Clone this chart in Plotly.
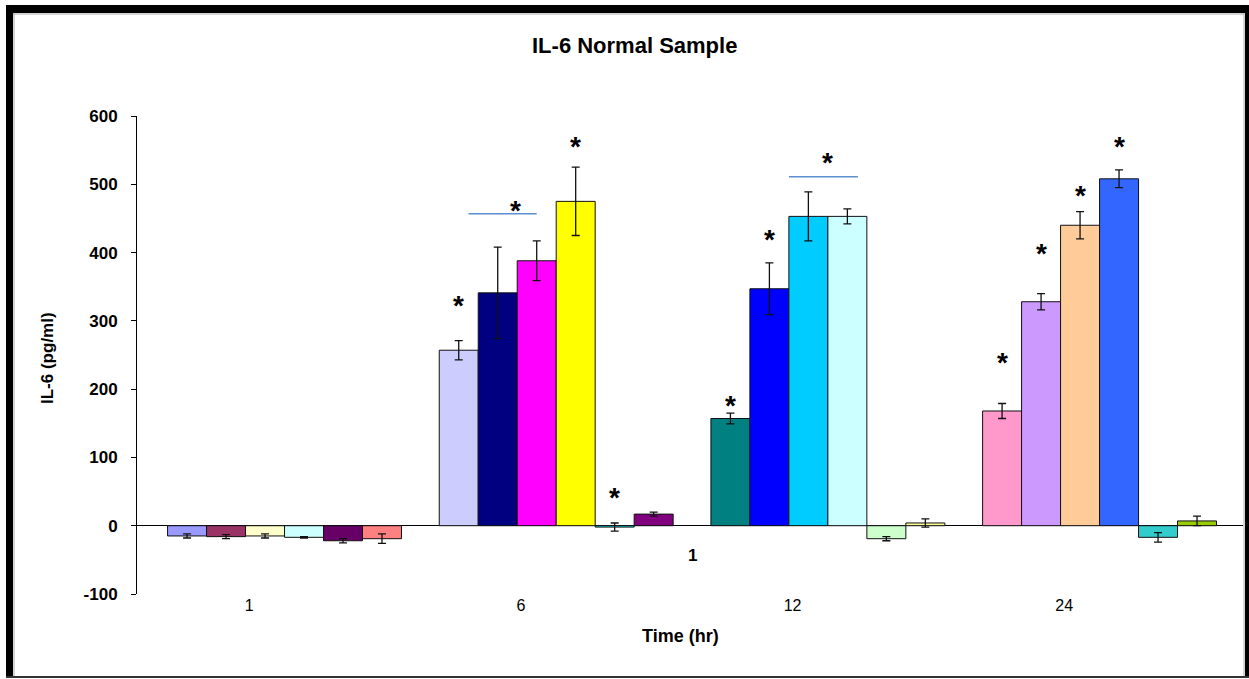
import plotly.graph_objects as go

# ---- data -------------------------------------------------------------
time_labels = ["1", "6", "12", "24"]          # hours after treatment
group_pos = [0, 1, 2, 3]                       # numeric slot of each time point
y_ticks = [-100, 0, 100, 200, 300, 400, 500, 600]

# six bars per time point (IL-6, pg/ml)
bar1 = [-15, 257, 157, 168]
bar2 = [-16, 341, 347, 328]
bar3 = [-15, 388, 453, 440]
bar4 = [-17, 475, 453, 508]
bar5 = [-22, -2, -19, -17]
bar6 = [-19, 17, 4, 7]

err1 = [3, 14, 8, 11]
err2 = [3, 67, 38, 12]
err3 = [3, 29, 36, 20]
err4 = [1, 50, 11, 13]
err5 = [3, 6, 3, 7]
err6 = [7, 3, 6, 7]

col1 = ["#9999FF", "#CCCCFF", "#008080", "#FF99CC"]
col2 = ["#993366", "#000080", "#0000FF", "#CC99FF"]
col3 = ["#FFFFCC", "#FF00FF", "#00CCFF", "#FFCC99"]
col4 = ["#CCFFFF", "#FFFF00", "#CCFFFF", "#3366FF"]
col5 = ["#660066", "#00FFFF", "#CCFFCC", "#33CCCC"]
col6 = ["#FF8080", "#800080", "#FFFF99", "#99CC00"]

# significance asterisks: time-point index, bar slot (0..5), height
star_group = [1, 1, 1, 1, 2, 2, 2, 3, 3, 3, 3]
star_slot = [0, 3, 4, 1.45, 0, 1, 2.5, 0, 1, 2, 3]
star_y = [331, 564, 50, 471, 185, 428, 540, 248, 408, 493, 564]

# bracket lines under the group asterisks: group, slot from, slot to, height
bracket_group = [1, 2]
bracket_from = [0.25, 1.5]
bracket_to = [2.0, 3.27]
bracket_y = [457, 511]

# ---- layout geometry --------------------------------------------------
W, H = 1249, 679
L, R, T, B = 137, 1243, 116, 594
BARGAP = 0.139
NBARS = 6
BARW = (1 - BARGAP) / NBARS
XRANGE = [-0.543, 3.528]
LABEL_SHIFT = -0.13

FONT = "Arial, Liberation Sans, sans-serif"


def px_x(px):
    return (px - L) / (R - L)


def px_y(py):
    return (B - py) / (B - T)


def slot_x(g, s):
    return g + (s - (NBARS - 1) / 2) * BARW


fig = go.Figure()

series = [
    (bar1, err1, col1), (bar2, err2, col2), (bar3, err3, col3),
    (bar4, err4, col4), (bar5, err5, col5), (bar6, err6, col6),
]
for vals, errs, cols in series:
    fig.add_trace(go.Bar(
        x=group_pos, y=vals,
        marker=dict(color=cols, line=dict(color="#111111", width=1)),
        error_y=dict(type="data", array=errs, visible=True,
                     color="#111111", thickness=1.3, width=4),
        showlegend=False, hoverinfo="y",
    ))

annotations = []
for g, s, y in zip(star_group, star_slot, star_y):
    annotations.append(dict(
        x=slot_x(g, s), y=y, xref="x", yref="y", text="*", showarrow=False,
        font=dict(family=FONT, size=28, color="black", weight="bold"),
        yanchor="middle", yshift=-6,
    ))

shapes = []
for g, a, b, y in zip(bracket_group, bracket_from, bracket_to, bracket_y):
    shapes.append(dict(type="line", xref="x", yref="y",
                       x0=slot_x(g, a), x1=slot_x(g, b), y0=y, y1=y,
                       line=dict(color="#5B8FCF", width=1.5)))

# bold "1" under the zero line between the middle groups
annotations.append(dict(x=1.5, y=-44, xref="x", yref="y", text="1",
                        showarrow=False,
                        font=dict(family=FONT, size=17, color="black",
                                  weight="bold")))

# titles
annotations.append(dict(x=px_x(634), y=px_y(45), xref="paper", yref="paper",
                        xanchor="center", yanchor="middle",
                        text="IL-6 Normal Sample", showarrow=False,
                        font=dict(family=FONT, size=22, color="black",
                                  weight="bold")))
annotations.append(dict(x=px_x(680), y=px_y(636), xref="paper", yref="paper",
                        xanchor="center", yanchor="middle",
                        text="Time (hr)", showarrow=False,
                        font=dict(family=FONT, size=18, color="black",
                                  weight="bold")))
annotations.append(dict(x=px_x(47), y=px_y(358), xref="paper", yref="paper",
                        xanchor="center", yanchor="middle",
                        text="IL-6 (pg/ml)", showarrow=False, textangle=-90,
                        font=dict(family=FONT, size=17, color="black",
                                  weight="bold")))

# outer frame of the chart
frame = [
    (6, 13, 5, 677, "black"),
    (6, 1249, 5, 13, "black"),
    (1245, 1249, 5, 677, "black"),
    (6, 1249, 676, 678, "#333333"),
]
for x0, x1, y0, y1, c in frame:
    shapes.append(dict(type="rect", xref="paper", yref="paper",
                       x0=px_x(x0), x1=px_x(x1), y0=px_y(y0), y1=px_y(y1),
                       fillcolor=c, line=dict(width=0), layer="above"))
for x0, x1, y0, y1 in [(14, 14, 13, 676), (13, 1244, 14, 14), (1244, 1244, 13, 676)]:
    shapes.append(dict(type="line", xref="paper", yref="paper",
                       x0=px_x(x0), x1=px_x(x1), y0=px_y(y0), y1=px_y(y1),
                       line=dict(color="#AAAAAA", width=1), layer="above"))

fig.update_layout(
    width=W, height=H, autosize=False,
    margin=dict(l=L, r=W - R, t=T, b=H - B, pad=0),
    paper_bgcolor="white", plot_bgcolor="white",
    barmode="group", bargap=BARGAP, bargroupgap=0,
    annotations=annotations, shapes=shapes,
    font=dict(family=FONT, color="black"),
    xaxis=dict(range=XRANGE, showgrid=False, zeroline=False, showline=False,
               ticks="", tickvals=[g + LABEL_SHIFT for g in group_pos],
               ticktext=time_labels,
               tickfont=dict(family=FONT, size=16, color="black")),
    yaxis=dict(range=[-100, 600], showgrid=False,
               tickvals=y_ticks, ticktext=[str(v) for v in y_ticks],
               showline=True, linecolor="black", linewidth=1,
               ticks="outside", ticklen=5, tickcolor="black",
               ticklabelstandoff=10,
               zeroline=True, zerolinecolor="black", zerolinewidth=1,
               tickfont=dict(family=FONT, size=17, color="black",
                             weight="bold")),
)

fig.write_html("out.html")
